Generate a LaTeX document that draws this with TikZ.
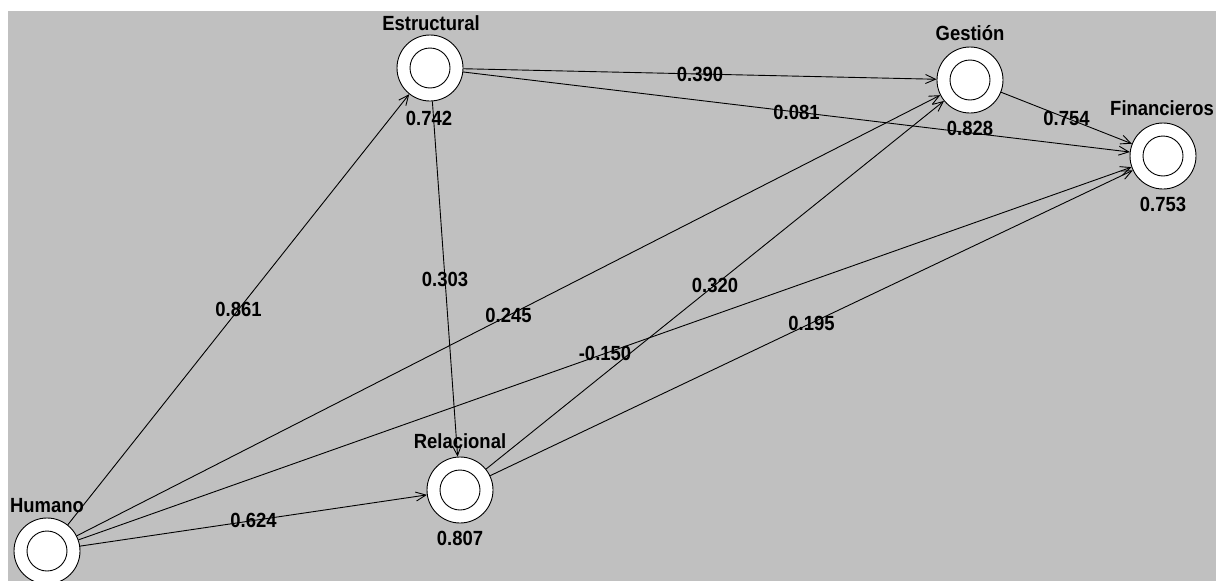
\documentclass[tikz,border=0pt]{standalone}
\usepackage{fontspec}
\setmainfont{Liberation Sans}
\newfontfamily\lblfont[FakeStretch=0.9]{Liberation Sans}
\usetikzlibrary{arrows.meta}
\definecolor{bgray}{HTML}{C0C0C0}
\begin{document}
\begin{tikzpicture}[x=1pt,y=-1pt,
  lv/.style={circle,draw=black,fill=white,line width=0.9pt,minimum size=66pt,inner sep=0pt},
  inner/.style={draw=black,line width=0.9pt},
  ttl/.style={font=\lblfont\fontsize{20.5}{22}\selectfont\bfseries,anchor=base,inner sep=0pt},
  wt/.style={font=\lblfont\fontsize{20.5}{22}\selectfont\bfseries,inner sep=0pt,anchor=center},
  edge/.style={draw=black,line width=0.9pt,-{Straight Barb[length=10pt,width=9pt]}}
]
\useasboundingbox (0,0) rectangle (1216,581);
\fill[white] (0,0) rectangle (1216,581);
\fill[bgray] (8,11) rectangle (1216,581);

% latent variables
\node[lv] (hum) at (47,551) {};
\node[lv] (est) at (430,68) {};
\node[lv] (ges) at (970,80) {};
\node[lv] (fin) at (1163,156) {};
\node[lv] (rel) at (460,490) {};

% edges
\draw[edge] (hum) -- node[wt]{0.861} (est);
\draw[edge] (hum) -- node[wt]{0.624} (rel);
\draw[edge] (hum) -- node[wt]{0.245} (ges);
\draw[edge] (hum) -- node[wt]{-0.150} (fin);
\draw[edge] (est) -- node[wt]{0.303} (rel);
\draw[edge] (est) -- node[wt]{0.390} (ges);
\draw[edge] (est) -- node[wt]{0.081} (fin);
\draw[edge] (rel) -- node[wt]{0.320} (ges);
\draw[edge] (rel) -- node[wt]{0.195} (fin);
\draw[edge] (ges) -- node[wt]{0.754} (fin);

% inner rings
\foreach \n in {hum,est,ges,fin,rel}{
  \draw[inner] (\n.center) circle[radius=20pt];
}

% titles
\node[ttl] (humt) at (47,512) {Humano};
\node[ttl] (estt) at (431,30) {Estructural};
\node[ttl] (gest) at (970,40) {Gestión};
\node[ttl] (fint) at (1162,115) {Financieros};
\node[ttl] (relt) at (460,448) {Relacional};

% R2 values
\node[ttl] (estv) at (429,125) {0.742};
\node[ttl] (gesv) at (970,135) {0.828};
\node[ttl] (finv) at (1163,211) {0.753};
\node[ttl] (relv) at (460,545) {0.807};
\end{tikzpicture}
\end{document}
